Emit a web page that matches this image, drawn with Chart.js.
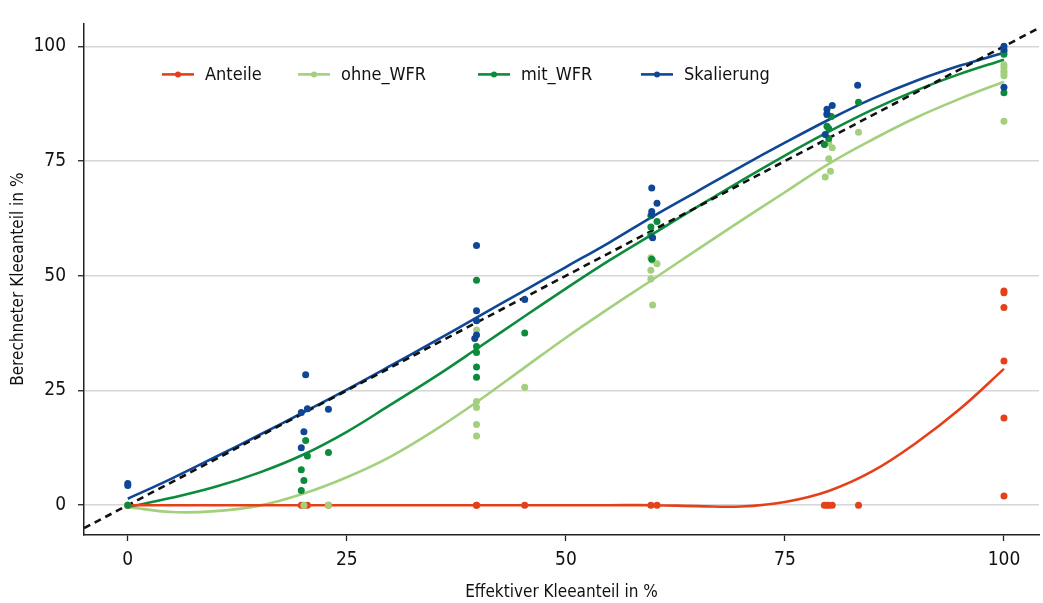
<!DOCTYPE html>
<html>
<head>
<meta charset="utf-8">
<title>Kleeanteil</title>
<script src="https://cdn.jsdelivr.net/npm/chart.js@4.4.1/dist/chart.umd.min.js"></script>
<style>
  html, body { margin: 0; padding: 0; background: #fff; overflow: hidden; }
</style>
</head>
<body>
<canvas id="chart" width="1043" height="603"></canvas>
<script>
// series names and colours
const seriesNames = ['Anteile', 'ohne_WFR', 'mit_WFR', 'Skalierung'];
const seriesColors = ['#e4411b', '#a3d07c', '#0b8b3b', '#0f4796'];

// measured points (effektiver / berechneter Kleeanteil)
const anteileX = [0, 0, 19.8, 20.1, 20.5, 22.9, 39.8, 39.8, 45.3, 59.7, 60.4, 79.5, 79.8, 80.0, 80.4, 83.4, 100, 100, 100, 100, 100, 100];
const anteileY = [0, 0, 0, 0, 0, 0, 0, 0, 0, 0, 0, 0, 0, 0, 0, 0, 46.7, 46.3, 43.1, 31.4, 19.0, 2.0];

const ohneX = [0, 20.1, 22.9, 39.8, 39.8, 39.8, 39.8, 39.8, 45.3, 59.7, 59.9, 60.4, 59.7, 59.7, 59.9, 83.4, 80.0, 80.4, 80.0, 80.2, 79.6, 100, 100, 100, 100, 100, 100];
const ohneY = [0, 0, 0, 38.2, 22.6, 21.3, 17.6, 15.1, 25.7, 53.9, 53.4, 52.6, 51.2, 49.3, 43.6, 81.3, 79.0, 77.9, 75.5, 72.8, 71.5, 96.0, 95.4, 94.6, 94.2, 93.6, 83.7];

const mitX = [0, 20.3, 20.5, 19.8, 20.1, 19.8, 22.9, 39.8, 39.8, 39.8, 39.8, 39.8, 45.3, 59.7, 60.4, 59.7, 59.7, 59.8, 83.4, 79.8, 80.3, 79.8, 80.0, 80.0, 79.5, 100, 100, 100];
const mitY = [0, 14.1, 10.7, 7.7, 5.4, 3.2, 11.5, 49.0, 34.6, 33.3, 30.1, 27.9, 37.5, 63.1, 61.8, 60.6, 58.8, 53.6, 87.8, 85.1, 84.7, 82.6, 82.1, 79.9, 78.6, 98.9, 98.3, 89.9];

const skalX = [0, 0, 20.3, 19.8, 20.5, 20.1, 19.8, 22.9, 39.8, 39.8, 39.8, 39.8, 39.6, 45.3, 59.8, 60.4, 59.8, 59.8, 59.9, 83.3, 80.4, 79.8, 79.8, 79.6, 100, 100, 100];
const skalY = [4.3, 4.7, 28.4, 20.2, 21.0, 16.0, 12.5, 20.9, 56.6, 42.4, 40.2, 37.1, 36.3, 44.8, 69.1, 65.8, 64.0, 63.3, 58.3, 91.5, 87.1, 86.3, 85.3, 80.8, 100.0, 99.3, 91.1];

const curveX = [0, 5, 10, 15, 20, 25, 30, 35, 40, 45, 50, 55, 60, 65, 70, 75, 80, 85, 90, 95, 100];
const anteileFit = [0, 0, 0, 0, 0, 0, 0, 0, 0, 0, 0, 0, 0, -0.2, -0.3, 0.7, 3.1, 7.4, 13.6, 21.0, 29.7];
const ohneFit = [-0.4, -1.5, -1.3, -0.1, 2.5, 6.1, 10.6, 16.3, 22.7, 29.6, 36.5, 43.0, 49.3, 55.7, 62.0, 68.2, 74.4, 79.7, 84.5, 88.6, 92.3];
const mitFit = [-0.4, 1.6, 4.0, 7.1, 11.0, 16.0, 21.9, 27.9, 34.3, 40.8, 47.2, 53.4, 59.2, 65.0, 70.7, 76.2, 81.4, 86.2, 90.4, 94.0, 97.1];
const skalFit = [1.4, 5.8, 10.5, 15.3, 20.2, 25.2, 30.4, 35.7, 41.1, 46.5, 51.9, 57.3, 63.0, 68.4, 73.8, 79.0, 84.0, 88.6, 92.5, 95.8, 98.6];

// axes
const xTicks = [0, 25, 50, 75, 100];
const yTicks = [0, 25, 50, 75, 100];
const xRange = [-5, 104];
const yRange = [-6.5, 105];

const FONT = "'DejaVu Sans Condensed', 'Liberation Sans Narrow', 'Open Sans', sans-serif";

const pts = (xs, ys) => xs.map((x, i) => ({ x: x, y: ys[i] }));

const pointSets = [pts(anteileX, anteileY), pts(ohneX, ohneY), pts(mitX, mitY), pts(skalX, skalY)];
const fitSets = [anteileFit, ohneFit, mitFit, skalFit].map(f => pts(curveX, f));

const datasets = [];
// point clouds on top
[3, 2, 1, 0].forEach((s, k) => {
  datasets.push({
    label: seriesNames[s] + ' Punkte',
    data: pointSets[s],
    showLine: false,
    pointRadius: 3.5,
    pointBorderWidth: 0,
    pointBackgroundColor: seriesColors[s],
    order: 10 + k
  });
});
// diagonal y = x
datasets.push({
  label: 'y = x',
  data: [{ x: xRange[0], y: xRange[0] }, { x: yRange[1], y: yRange[1] }],
  showLine: true,
  borderColor: '#111',
  borderWidth: 2.6,
  borderDash: [7, 5],
  pointRadius: 0,
  order: 20
});
// fit curves
[0, 3, 2, 1].forEach((s, k) => {
  datasets.push({
    label: seriesNames[s],
    data: fitSets[s],
    showLine: true,
    borderColor: seriesColors[s],
    borderWidth: 2.6,
    pointRadius: 0,
    tension: 0.4,
    order: 30 + k
  });
});

// legend drawn inside the plot area
const legendOffsets = [78, 214, 394, 557];
const insideLegend = {
  id: 'insideLegend',
  afterDraw(chart) {
    const ctx = chart.ctx;
    const a = chart.chartArea;
    const y = a.top + 51;
    ctx.save();
    ctx.font = '18px ' + FONT;
    ctx.textBaseline = 'middle';
    seriesNames.forEach((name, i) => {
      const x0 = a.left + legendOffsets[i];
      ctx.strokeStyle = seriesColors[i];
      ctx.lineWidth = 2.6;
      ctx.beginPath();
      ctx.moveTo(x0, y);
      ctx.lineTo(x0 + 32, y);
      ctx.stroke();
      ctx.fillStyle = seriesColors[i];
      ctx.beginPath();
      ctx.arc(x0 + 16, y, 3, 0, Math.PI * 2);
      ctx.fill();
      ctx.fillStyle = '#111';
      ctx.fillText(name, x0 + 43, y + 1);
    });
    ctx.restore();
  }
};

new Chart(document.getElementById('chart'), {
  type: 'scatter',
  data: { datasets: datasets },
  options: {
    responsive: false,
    animation: false,
    devicePixelRatio: 1,
    layout: { padding: { top: 20, left: 0, right: 0, bottom: 0 } },
    plugins: {
      legend: { display: false },
      tooltip: { enabled: false }
    },
    scales: {
      x: {
        type: 'linear',
        min: xRange[0],
        max: xRange[1],
        afterBuildTicks: s => { s.ticks = xTicks.map(v => ({ value: v })); },
        afterFit: s => { s.height = 68; },
        grid: { drawOnChartArea: false, drawTicks: true, tickLength: 6, tickColor: '#222', tickWidth: 1.3 },
        border: { color: '#222', width: 1.5 },
        ticks: { padding: 8, color: '#111', maxRotation: 0, font: { family: FONT, size: 19 } },
        title: { display: true, text: 'Effektiver Kleeanteil in %', color: '#111', padding: { top: 0, bottom: 0 }, font: { family: FONT, size: 17 } }
      },
      y: {
        type: 'linear',
        min: yRange[0],
        max: yRange[1],
        afterBuildTicks: s => { s.ticks = yTicks.map(v => ({ value: v })); },
        afterFit: s => { s.width = 84; },
        grid: { color: '#d6d6d6', lineWidth: 1.5, drawTicks: true, tickLength: 6, tickColor: '#222', tickWidth: 1.3 },
        border: { color: '#222', width: 1.5 },
        ticks: { padding: 12, color: '#111', font: { family: FONT, size: 19 } },
        title: { display: true, text: 'Berechneter Kleeanteil in %', color: '#111', padding: { top: 8, bottom: 0 }, font: { family: FONT, size: 17 } }
      }
    }
  },
  plugins: [insideLegend]
});
</script>
</body>
</html>
